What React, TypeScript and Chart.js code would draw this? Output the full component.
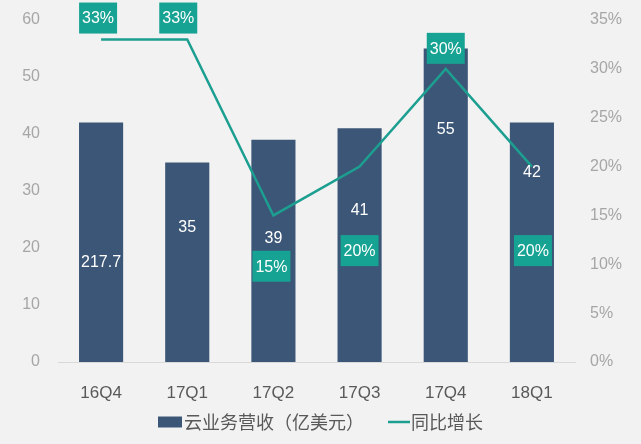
import React, { useEffect, useRef } from "react";
import { Chart, registerables } from "chart.js";

Chart.register(...registerables);

// ---- data ----
const categories = ["16Q4", "17Q1", "17Q2", "17Q3", "17Q4", "18Q1"];
const revenue = [42, 35, 39, 41, 55, 42];
const revenueLabels = ["217.7", "35", "39", "41", "55", "42"];
const growth = [33, 33, 15, 20, 30, 20];
const growthLabels = ["33%", "33%", "15%", "20%", "30%", "20%"];
const leftTicks = [0, 10, 20, 30, 40, 50, 60];
const rightTicks = [0, 5, 10, 15, 20, 25, 30, 35];
const seriesNames = ["云业务营收（亿美元）", "同比增长"];

// ---- label placement (style) ----
const barLabelAt = [17.5, 23.5, 21.7, 26.5, 40.7, 33.3]; // left-axis units
const boxLabelAt = [35.2, 35.2, 9.8, 11.4, 32.1, 11.4]; // right-axis units
const boxLabelDx = [-3, -9, -2, 0, 0, 1];

const BAR = "#3b5676";
const TEAL_LINE = "#1c9f90";
const TEAL_BOX = "#17a393";
const FONT = "'Liberation Sans', Arial, 'Noto Sans CJK SC', sans-serif";
const CJK = "'Noto Sans CJK SC', sans-serif";

const labelPlugin = {
  id: "customLabels",
  afterDatasetsDraw(chart: any) {
    const ctx = chart.ctx;
    const xs = chart.scales.x;
    const y = chart.scales.y;
    const y1 = chart.scales.y1;
    ctx.save();
    ctx.textAlign = "center";
    ctx.textBaseline = "middle";
    ctx.font = `16px ${FONT}`;
    revenueLabels.forEach((t, i) => {
      const px = xs.getPixelForValue(i);
      const py = y.getPixelForValue(barLabelAt[i]);
      ctx.fillStyle = "#ffffff";
      ctx.fillText(t, px, py);
    });
    growthLabels.forEach((t, i) => {
      const px = xs.getPixelForValue(i) + boxLabelDx[i];
      const py = y1.getPixelForValue(boxLabelAt[i]);
      const w = 38;
      const h = 31;
      ctx.fillStyle = TEAL_BOX;
      ctx.fillRect(px - w / 2, py - h / 2, w, h);
      ctx.fillStyle = "#ffffff";
      ctx.fillText(t, px, py + 1);
    });
    ctx.restore();
  },
};

const legendPlugin = {
  id: "customLegend",
  afterDraw(chart: any) {
    const ctx = chart.ctx;
    const cy = 422;
    ctx.save();
    ctx.font = `18px ${CJK}`;
    ctx.textBaseline = "middle";
    ctx.textAlign = "left";
    // bar item
    let x = 158;
    ctx.fillStyle = BAR;
    ctx.fillRect(x, cy - 5.5, 24, 11);
    x += 26;
    ctx.fillStyle = "#595959";
    ctx.fillText(seriesNames[0], x, cy);
    x += ctx.measureText(seriesNames[0]).width + 24;
    // line item
    ctx.strokeStyle = TEAL_LINE;
    ctx.lineWidth = 2.5;
    ctx.beginPath();
    ctx.moveTo(x, cy);
    ctx.lineTo(x + 22, cy);
    ctx.stroke();
    x += 23;
    ctx.fillText(seriesNames[1], x, cy);
    ctx.restore();
  },
};

const noPad = (s: any) => {
  s.paddingTop = 0;
  s.paddingBottom = 0;
};

export default function App() {
  const ref = useRef<HTMLCanvasElement>(null);
  useEffect(() => {
    if (!ref.current) return;
    const chart = new Chart(ref.current, {
      type: "bar",
      data: {
        labels: categories,
        datasets: [
          {
            type: "line",
            label: seriesNames[1],
            data: growth,
            yAxisID: "y1",
            borderColor: TEAL_LINE,
            backgroundColor: TEAL_LINE,
            borderWidth: 2.5,
            pointRadius: 0,
            tension: 0,
            order: 0,
          } as any,
          {
            type: "bar",
            label: seriesNames[0],
            data: revenue,
            yAxisID: "y",
            backgroundColor: BAR,
            categoryPercentage: 0.8,
            barPercentage: 0.64,
            order: 1,
          },
        ],
      },
      options: {
        animation: false,
        responsive: true,
        maintainAspectRatio: false,
        layout: { padding: { top: 20, left: 0, right: 0, bottom: 40 } },
        plugins: {
          tooltip: { enabled: false },
          legend: { display: false },
        },
        scales: {
          x: {
            grid: { display: false, drawTicks: false },
            border: { display: true, color: "#d9d9d9", width: 1 },
            ticks: {
              color: "#595959",
              padding: 21,
              font: { size: 17, family: FONT },
            },
            afterFit: (s: any) => {
              s.height = 42;
            },
          },
          y: {
            position: "left",
            min: 0,
            max: 60,
            afterBuildTicks: (s: any) => {
              s.ticks = leftTicks.map((v) => ({ value: v }));
            },
            grid: { display: false, drawTicks: false },
            border: { display: false },
            ticks: {
              color: "#a6a6a6",
              padding: 18,
              font: { size: 16, family: FONT },
            },
            afterFit: (s: any) => {
              s.width = 58;
              noPad(s);
            },
          },
          y1: {
            position: "right",
            min: 0,
            max: 35,
            afterBuildTicks: (s: any) => {
              s.ticks = rightTicks.map((v) => ({ value: v }));
            },
            grid: { display: false, drawTicks: false },
            border: { display: false },
            ticks: {
              color: "#a6a6a6",
              padding: 15,
              font: { size: 16, family: FONT },
              callback: (v: any) => `${v}%`,
            },
            afterFit: (s: any) => {
              s.width = 66;
              noPad(s);
            },
          },
        },
      },
      plugins: [labelPlugin, legendPlugin],
    });
    return () => chart.destroy();
  }, []);
  return (
    <div
      style={{
        position: "fixed",
        left: 0,
        top: 0,
        width: 641,
        height: 444,
        background: "#f2f2f2",
      }}
    >
      <canvas ref={ref} />
    </div>
  );
}
